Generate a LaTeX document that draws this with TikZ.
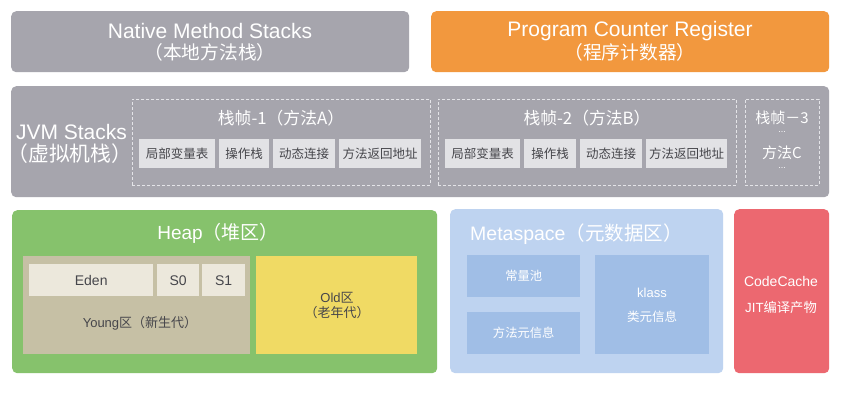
\documentclass[tikz,border=0pt]{standalone}
\usepackage{fontspec}
\setmainfont{Liberation Sans}
\newfontfamily\zhfont{Noto Sans CJK SC}
\newcommand\zh[1]{{\zhfont #1}}
\definecolor{jvmgray}{RGB}{166,165,173}
\definecolor{pcorange}{RGB}{242,152,62}
\definecolor{heapgreen}{RGB}{134,194,108}
\definecolor{youngtan}{RGB}{198,192,165}
\definecolor{edencell}{RGB}{236,232,220}
\definecolor{oldyellow}{RGB}{240,218,100}
\definecolor{metablue}{RGB}{190,211,240}
\definecolor{innerblue}{RGB}{160,190,230}
\definecolor{ccred}{RGB}{236,104,112}
\definecolor{cellgray}{RGB}{226,226,229}
\definecolor{celltext}{RGB}{70,70,75}
\definecolor{dashwhite}{RGB}{228,228,232}
\begin{document}
\begin{tikzpicture}[x=1bp,y=-1bp,
  area/.style 2 args={anchor=north west, inner sep=0pt, rounded corners=5bp, minimum width=#1bp, minimum height=#2bp},
  blk/.style 2 args={anchor=north west, inner sep=0pt, minimum width=#1bp, minimum height=#2bp},
  frame/.style={draw=dashwhite, dashed, dash pattern=on 3bp off 2bp, line width=0.8bp},
  wtxt/.style={text=white, align=center, inner sep=0pt},
  ctxt/.style={text=celltext, inner sep=0pt, font=\fontsize{12.5bp}{14bp}\selectfont},
  toplat/.style={font=\fontsize{21bp}{24bp}\selectfont},
  topzh/.style={font=\fontsize{18.7bp}{22bp}\selectfont},
  ftitle/.style={font=\fontsize{16.8bp}{19bp}\selectfont},
  mid/.style={font=\fontsize{14bp}{16bp}\selectfont}
]
\useasboundingbox (0,0) rectangle (854,405);
\fill[white] (0,0) rectangle (854,405);

% top boxes
\node[area={398}{61}, fill=jvmgray] (nms) at (11,11) {};
\node[wtxt, toplat] (nmst1) at (210,31) {Native Method Stacks};
\node[wtxt, topzh] (nmst2) at (210,52) {\zh{（本地方法栈）}};
\node[area={398}{61}, fill=pcorange] (pcr) at (431,11) {};
\node[wtxt, toplat] (pcrt1) at (630,31) {Program Counter Register};
\node[wtxt, topzh] (pcrt2) at (630,52) {\zh{（程序计数器）}};

% JVM stacks
\node[area={818}{111}, fill=jvmgray] (jvm) at (11,86) {};
\node[wtxt, toplat] (jvmt1) at (71.5,132) {JVM Stacks};
\node[wtxt, font=\fontsize{20.8bp}{22bp}\selectfont] (jvmt2) at (70,154) {\zh{（虚拟机栈）}};

\node[blk={298}{86}, frame] (f1) at (132,99) {};
\node[wtxt, ftitle] (f1t) at (281,118) {\zh{栈帧-1（方法A）}};
\node[blk={76}{29}, fill=cellgray] (c11) at (139,139) {};
\node[ctxt] at (c11.center) (c11t) {\zh{局部变量表}};
\node[blk={50}{29}, fill=cellgray] (c12) at (219,139) {};
\node[ctxt] at (c12.center) (c12t) {\zh{操作栈}};
\node[blk={62}{29}, fill=cellgray] (c13) at (273,139) {};
\node[ctxt] at (c13.center) (c13t) {\zh{动态连接}};
\node[blk={82}{29}, fill=cellgray] (c14) at (339,139) {};
\node[ctxt] at (c14.center) (c14t) {\zh{方法返回地址}};

\node[blk={298}{86}, frame] (f2) at (438,99) {};
\node[wtxt, ftitle] (f2t) at (587,118) {\zh{栈帧-2（方法B）}};
\node[blk={75}{29}, fill=cellgray] (c21) at (445,139) {};
\node[ctxt] at (c21.center) (c21t) {\zh{局部变量表}};
\node[blk={52}{29}, fill=cellgray] (c22) at (524,139) {};
\node[ctxt] at (c22.center) (c22t) {\zh{操作栈}};
\node[blk={62}{29}, fill=cellgray] (c23) at (580,139) {};
\node[ctxt] at (c23.center) (c23t) {\zh{动态连接}};
\node[blk={81}{29}, fill=cellgray] (c24) at (646,139) {};
\node[ctxt] at (c24.center) (c24t) {\zh{方法返回地址}};

\node[blk={74}{86}, frame] (f3) at (745,99) {};
\node[wtxt, font=\fontsize{15bp}{17bp}\selectfont] (f3a) at (782,118) {\zh{栈帧－3}};
\node[wtxt, font=\fontsize{9bp}{10bp}\selectfont] (f3b) at (782,132) {...};
\node[wtxt, font=\fontsize{15bp}{17bp}\selectfont] (f3c) at (782,153) {\zh{方法C}};
\node[wtxt, font=\fontsize{9bp}{10bp}\selectfont] (f3d) at (782,168) {...};

% Heap
\node[area={425}{163}, fill=heapgreen] (heap) at (12,210) {};
\node[wtxt, font=\fontsize{19bp}{22bp}\selectfont] (heapt) at (218,233) {Heap\zh{（堆区）}};
\node[blk={227}{98}, fill=youngtan] (young) at (23,256) {};
\node[blk={124}{32}, fill=edencell] (eden) at (29,264) {};
\node[ctxt, mid] (edent) at (eden.center) {Eden};
\node[blk={42}{32}, fill=edencell] (s0) at (157,264) {};
\node[ctxt, mid] (s0t) at (s0.center) {S0};
\node[blk={43}{32}, fill=edencell] (s1) at (202,264) {};
\node[ctxt, mid] (s1t) at (s1.center) {S1};
\node[ctxt, font=\fontsize{13bp}{15bp}\selectfont] (youngt) at (140,323) {Young\zh{区（新生代）}};
\node[blk={161}{98}, fill=oldyellow] (old) at (256,256) {};
\node[ctxt, align=center, font=\fontsize{13bp}{15bp}\selectfont] (oldt) at (337,306) {Old\zh{区}\\\zh{（老年代）}};

% Metaspace
\node[area={273}{164}, fill=metablue] (meta) at (450,209) {};
\node[text=white, inner sep=0pt, anchor=west, font=\fontsize{19.5bp}{24bp}\selectfont] (metat) at (470,234) {Metaspace\zh{（元数据区）}};
\node[blk={113}{42}, fill=innerblue] (cp) at (467,255) {};
\node[wtxt, font=\fontsize{12.3bp}{14bp}\selectfont] (cpt) at (cp.center) {\zh{常量池}};
\node[blk={113}{42}, fill=innerblue] (mm) at (467,312) {};
\node[wtxt, font=\fontsize{12.3bp}{14bp}\selectfont] (mmt) at (mm.center) {\zh{方法元信息}};
\node[blk={114}{99}, fill=innerblue] (kl) at (595,255) {};
\node[wtxt, font=\fontsize{13bp}{15bp}\selectfont] (klt1) at (652,293) {klass};
\node[wtxt, font=\fontsize{12.5bp}{15bp}\selectfont] (klt2) at (652,317) {\zh{类元信息}};

% CodeCache
\node[area={95}{164}, fill=ccred] (cc) at (734,209) {};
\node[wtxt, font=\fontsize{14bp}{16bp}\selectfont] (cct1) at (781,281) {CodeCache};
\node[wtxt, font=\fontsize{13.3bp}{16bp}\selectfont] (cct2) at (781,307) {JIT\zh{编译产物}};
\end{tikzpicture}
\end{document}
